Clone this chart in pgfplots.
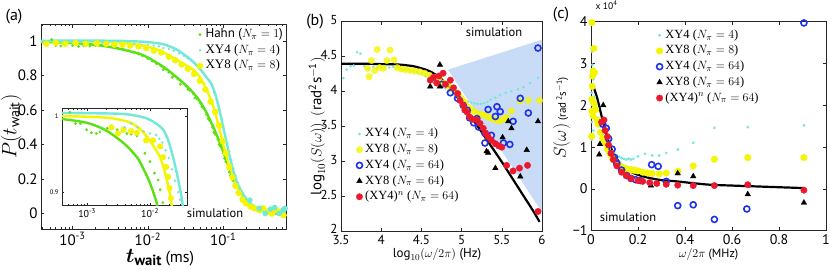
\documentclass[border=0pt]{standalone}
\usepackage{amsmath}
\usepackage{fontspec}
\setmainfont{PT Sans}
\newfontfamily\serifft{Liberation Serif}
\usepackage{pgfplots}
\pgfplotsset{compat=1.18}
\definecolor{cG}{RGB}{90,225,20}
\definecolor{cC}{RGB}{112,232,218}
\definecolor{cY}{RGB}{245,245,0}
\definecolor{cB}{RGB}{30,50,235}
\definecolor{cR}{RGB}{235,25,45}
\definecolor{cS}{RGB}{200,220,248}
\pgfplotsset{
  base/.style={scale only axis, anchor=south west, tick align=inside,
    axis line style={line width=0.8pt, black!85},
    major tick length=3.5pt, minor tick length=2pt,
    tick style={black!85, line width=0.6pt},
    /pgf/number format/assume math mode=true,
    legend cell align=left,
    legend image code/.code={\draw[mark repeat=2,mark phase=2,##1] plot coordinates {(-4pt,0pt)(0pt,0pt)(4pt,0pt)};},
    legend style={draw=none, fill=none, inner sep=0pt, row sep=0.7pt, column sep=1pt,
       nodes={inner sep=1.5pt, text height=9pt, text depth=3pt}},
  },
}
\begin{document}
\begin{tikzpicture}
\useasboundingbox (0,0) rectangle (830pt,269pt);
% ---------------- (a) ----------------
\begin{axis}[base, at={(41pt,40pt)}, width=245pt, height=205pt,
  xmode=log, xmin=3.82e-4, xmax=0.679, ymin=-0.09, ymax=1.1,
  xtick={1e-3,1e-2,1e-1},
  xticklabels={10\textsuperscript{-3},10\textsuperscript{-2},10\textsuperscript{-1}},
  minor xtick={4e-4,5e-4,6e-4,7e-4,8e-4,9e-4,2e-3,3e-3,4e-3,5e-3,6e-3,7e-3,8e-3,9e-3,2e-2,3e-2,4e-2,5e-2,6e-2,7e-2,8e-2,9e-2,0.2,0.3,0.4,0.5,0.6},
  ytick={0,0.2,0.4,0.6,0.8,1}, yticklabels={0,0.2,0.4,0.6,0.8,1},
  ticklabel style={font=\fontsize{15}{15}\selectfont},
  xlabel={$\boldsymbol{t}_{\mathbf{wait}}$\,{\fontsize{16}{16}\selectfont(ms)}},
  xlabel style={at={(axis description cs:0.486,-0.14)}, anchor=center, font=\fontsize{21}{21}\selectfont},
  ylabel={$P(t_{\mathrm{wait}})$},
  ylabel style={at={(axis description cs:-0.122,0.5)}, anchor=center, font=\fontsize{20}{20}\selectfont},
  legend style={at={(axis description cs:0.636,0.986)}, anchor=north west, font=\fontsize{13}{13}\selectfont},
]
\addplot[cG, line width=2.4pt, smooth, forget plot] coordinates {(3.8e-4,0.996)(1e-3,0.99)(2e-3,0.979)(3e-3,0.968)(4e-3,0.958)(6e-3,0.94)(0.008,0.925)(0.01,0.905)(0.015,0.86)(0.02,0.82)(0.03,0.755)(0.04,0.70)(0.05,0.645)(0.06,0.585)(0.074,0.50)(0.09,0.41)(0.11,0.31)(0.13,0.225)(0.16,0.145)(0.2,0.08)(0.25,0.043)(0.3,0.025)(0.4,0.01)(0.68,0.003)};
\addplot[cY, line width=2.4pt, smooth, forget plot] coordinates {(3.8e-4,1.0)(2e-3,0.998)(4e-3,0.993)(0.006,0.985)(0.008,0.977)(0.01,0.968)(0.0126,0.955)(0.0158,0.937)(0.02,0.912)(0.025,0.888)(0.03,0.868)(0.04,0.835)(0.05,0.785)(0.06,0.72)(0.074,0.62)(0.089,0.49)(0.1,0.4)(0.115,0.3)(0.13,0.23)(0.15,0.16)(0.18,0.1)(0.22,0.055)(0.28,0.03)(0.4,0.01)(0.68,0.003)};
\addplot[cC, line width=2.4pt, smooth, forget plot] coordinates {(3.8e-4,1.003)(3e-3,1.003)(6e-3,1.0)(0.01,0.995)(0.0158,0.983)(0.02,0.968)(0.025,0.948)(0.033,0.91)(0.04,0.88)(0.049,0.84)(0.06,0.79)(0.07,0.75)(0.08,0.68)(0.09,0.59)(0.1,0.50)(0.111,0.41)(0.125,0.31)(0.14,0.23)(0.16,0.16)(0.185,0.11)(0.22,0.065)(0.27,0.035)(0.35,0.015)(0.68,0.003)};
\addplot[only marks, mark=*, mark size=1.2pt, cG] coordinates {(4.5e-4,0.98)(5.3e-4,1.01)(6e-4,0.975)(7e-4,0.972)(8e-4,0.978)(1e-3,0.975)(1.2e-3,0.97)(1.4e-3,0.975)(1.7e-3,0.972)(2e-3,0.975)(2.4e-3,0.978)(2.8e-3,0.975)(3.3e-3,0.968)(4e-3,0.96)(4.7e-3,0.955)(5.5e-3,0.945)(6.5e-3,0.935)(7.5e-3,0.925)(8.5e-3,0.915)(1e-2,0.9)(1.15e-2,0.885)(1.3e-2,0.87)(1.5e-2,0.855)(1.7e-2,0.84)(1.9e-2,0.82)(2.2e-2,0.8)(2.5e-2,0.78)(2.8e-2,0.765)(3.2e-2,0.74)(3.6e-2,0.715)(4e-2,0.695)(4.5e-2,0.665)(5e-2,0.64)(5.5e-2,0.61)(6e-2,0.575)(6.6e-2,0.54)(7.2e-2,0.5)(7.8e-2,0.46)(8.5e-2,0.43)(9.2e-2,0.39)(0.1,0.35)(0.108,0.3)(0.116,0.26)(0.125,0.22)(0.135,0.19)(0.145,0.16)(0.16,0.12)(0.175,0.09)(0.19,0.06)(0.21,0.05)(0.23,0.035)(0.25,0.03)(0.28,0.02)(0.31,0.01)(0.35,0.015)(0.4,0.005)(0.45,0.01)(0.5,0.0)(0.6,0.005)(1.6e-2,0.835)(2.1e-2,0.79)(2.7e-2,0.75)(3.4e-2,0.72)(4.2e-2,0.67)(5.2e-2,0.62)(6.3e-2,0.55)(7.5e-2,0.47)(8.8e-2,0.4)(0.104,0.32)(0.12,0.24)(0.14,0.17)(0.2,0.07)};
\addlegendentry{Hahn ($N_\pi = 1$)}
\addplot[only marks, mark=*, mark size=1pt, cC] coordinates {(4.5e-4,1.0)(6e-4,0.995)(8e-4,0.99)(1e-3,0.99)(1.3e-3,0.995)(1.6e-3,0.99)(2e-3,0.99)(2.5e-3,0.99)(3e-3,0.995)(3.7e-3,0.99)(4.5e-3,0.99)(5.5e-3,0.985)(6.5e-3,0.985)(8e-3,0.98)(1e-2,0.98)(1.2e-2,0.975)(1.4e-2,0.97)(1.6e-2,0.96)(1.9e-2,0.955)(2.2e-2,0.945)(2.6e-2,0.93)(3e-2,0.915)(3.4e-2,0.9)(3.8e-2,0.885)(4.3e-2,0.865)(4.8e-2,0.84)(5.3e-2,0.82)(5.8e-2,0.8)(6.4e-2,0.77)(7e-2,0.74)(7.6e-2,0.7)(8.2e-2,0.66)(8.8e-2,0.61)(9.4e-2,0.56)(0.1,0.51)(0.106,0.46)(0.113,0.41)(0.12,0.36)(0.128,0.31)(0.136,0.26)(0.145,0.22)(0.155,0.18)(0.165,0.15)(0.18,0.12)(0.2,0.09)(0.22,0.06)(0.25,0.04)(0.28,0.03)(0.32,0.02)};
\addlegendentry{{\serifft XY4 (}$N_\pi = 4${\serifft )}}
\addplot[only marks, mark=*, mark size=3pt, cY] coordinates {(4.5e-4,0.985)(6e-4,0.99)(8e-4,0.985)(1.1e-3,0.99)(1.5e-3,0.985)(2.1e-3,0.988)(2.8e-3,0.985)(3.6e-3,0.98)(4.6e-3,0.98)(5.8e-3,0.975)(7.5e-3,0.97)(9.5e-3,0.96)(1.2e-2,0.945)(1.5e-2,0.935)(1.9e-2,0.91)(2.3e-2,0.89)(2.8e-2,0.865)(3.4e-2,0.84)(4.1e-2,0.81)(4.9e-2,0.77)(5.8e-2,0.72)(6.8e-2,0.65)(7.8e-2,0.59)(8.8e-2,0.51)(0.098,0.42)(0.108,0.35)(0.12,0.27)(0.132,0.21)(0.145,0.16)(0.16,0.12)(0.18,0.08)(0.2,0.06)(0.23,0.04)(0.26,0.03)(0.3,0.02)(0.34,0.03)(0.39,0.01)(0.44,0.0)(0.5,0.02)(0.56,0.01)(0.63,-0.01)};
\addlegendentry{{\serifft XY8 (}$N_\pi = 8${\serifft )}}
\addplot[only marks, mark=*, mark size=2.6pt, cC, forget plot] coordinates {(0.225,0.077)(0.3,0.03)(0.36,0.0)(0.42,0.025)(0.48,0.035)(0.55,0.0)(0.62,0.02)(0.66,0.03)};
\end{axis}
% ---------------- (a) inset ----------------
\begin{axis}[base, at={(62pt,64pt)}, width=125pt, height=97pt,
  xmode=log, xmin=3.98e-4, xmax=0.0389, ymin=0.883, ymax=1.0105,
  axis background/.style={fill=white},
  xtick={1e-3,1e-2}, xticklabels={10\textsuperscript{-3},10\textsuperscript{-2}},
  minor xtick={5e-4,6e-4,7e-4,8e-4,9e-4,2e-3,3e-3,4e-3,5e-3,6e-3,7e-3,8e-3,9e-3,2e-2,3e-2},
  ytick={0.9,1}, yticklabels={0.9,1},
  xticklabel style={font=\fontsize{10}{10}\selectfont},
  yticklabel style={font=\fontsize{6.5}{6.5}\selectfont},
  major tick length=2.5pt, minor tick length=1.5pt,
]
\addplot[cG, line width=2.4pt, smooth] coordinates {(3.98e-4,0.996)(1e-3,0.991)(2e-3,0.981)(3.98e-3,0.963)(6.31e-3,0.945)(7.94e-3,0.930)(1e-2,0.912)(1.259e-2,0.888)(1.35e-2,0.875)};
\addplot[cY, line width=2.4pt, smooth] coordinates {(3.98e-4,1.0)(1e-3,0.999)(2.51e-3,0.997)(5.01e-3,0.991)(7.94e-3,0.978)(1.259e-2,0.955)(1.585e-2,0.937)(1.995e-2,0.905)(2.3e-2,0.875)};
\addplot[cC, line width=2.4pt, smooth] coordinates {(3.98e-4,1.004)(3.16e-3,1.003)(6.31e-3,1.0)(1e-2,0.995)(1.585e-2,0.983)(1.995e-2,0.966)(2.512e-2,0.935)(3.162e-2,0.895)(3.4e-2,0.875)};
\addplot[only marks, mark=*, mark size=1.2pt, cG] coordinates {(5.3e-4,1.005)(6.5e-4,0.99)(7.8e-4,0.99)(9.8e-4,0.982)(1.17e-3,0.978)(1.4e-3,0.977)(1.6e-3,0.979)(1.8e-3,0.983)(2.1e-3,0.984)(2.5e-3,0.984)(3e-3,0.982)(3.6e-3,0.98)(4.3e-3,0.977)(5e-3,0.976)(6.2e-3,0.974)(8.3e-3,0.951)(1e-2,0.94)(1.18e-2,0.925)(1.35e-2,0.916)(1.45e-2,0.903)(1.6e-2,0.886)};
\addplot[only marks, mark=*, mark size=2.8pt, cY] coordinates {(2.45e-3,0.985)(3.1e-3,0.977)(3.8e-3,0.982)(5e-3,0.98)(6.2e-3,0.978)(8.7e-3,0.968)(1.12e-2,0.968)(1.45e-2,0.96)(1.62e-2,0.946)(1.82e-2,0.933)(1.95e-2,0.92)(2.05e-2,0.905)(2.15e-2,0.892)};
\addplot[only marks, mark=*, mark size=1pt, cC] coordinates {(3.98e-3,0.985)(5.01e-3,0.99)(6.31e-3,0.985)(7.94e-3,0.98)(1e-2,0.977)(1.259e-2,0.975)(1.413e-2,0.97)(1.585e-2,0.965)(1.778e-2,0.955)(1.995e-2,0.945)(2.239e-2,0.93)(2.512e-2,0.915)(2.818e-2,0.9)(3.02e-2,0.89)};
\end{axis}
\node[font=\fontsize{12.5}{12.5}\selectfont] at (215pt,56pt) {simulation};
\node[font=\fontsize{16}{16}\selectfont] at (14pt,252pt) {(a)};
% ---------------- (b) ----------------
\begin{axis}[base, at={(341pt,38pt)}, width=201pt, height=209.5pt,
  xmin=3.5, xmax=6, ymin=2, ymax=5,
  xtick={3.5,4,4.5,5,5.5,6}, xticklabels={3.5,4,4.5,5,5.5,6},
  ytick={2,2.5,3,3.5,4,4.5,5}, yticklabels={\raisebox{3pt}{2},2.5,3,3.5,4,4.5,5},
  ticklabel style={font=\fontsize{13}{13}\selectfont},
  yticklabel style={yshift=1pt},
  xticklabel style={yshift=-1pt},
  xlabel={$\log_{10}(\omega/2\pi)$ (Hz)},
  xlabel style={at={(axis description cs:0.478,-0.11)}, anchor=center, font=\fontsize{13}{13}\selectfont},
  ylabel={$\log_{10}(S(\omega))\;\,(\mathrm{rad^2s^{-1}})$},
  ylabel style={at={(axis description cs:-0.12,0.5)}, anchor=center, font=\fontsize{15}{15}\selectfont},
  legend style={at={(axis description cs:0.075,0.50)}, anchor=north west, font=\serifft\fontsize{12.5}{12.5}\selectfont},
]
\addplot[draw=none, fill=cS, forget plot] coordinates {(4.83,4.31) (6,4.74) (6,2.27)} -- cycle;
\addplot[only marks, mark=*, mark size=1.1pt, cC] coordinates {(3.53,4.19)(3.57,4.31)(3.62,4.36)(3.66,4.37)(3.70,4.56)(3.74,4.54)(3.79,4.36)(3.84,4.33)(3.9,4.35)(3.95,4.34)(4.0,4.35)(4.05,4.36)(4.1,4.34)(4.15,4.35)(4.2,4.34)(4.25,4.32)(4.3,4.31)(4.35,4.3)(4.4,4.29)(4.45,4.27)(4.5,4.25)(4.55,4.22)(4.6,4.19)(4.65,4.16)(4.7,4.12)(4.75,4.08)(4.8,4.04)(4.85,4.0)(4.9,3.96)(4.95,3.93)(5.0,3.9)(5.04,3.87)(5.08,3.85)(5.12,3.84)(5.16,3.83)(5.2,3.82)(5.24,3.82)(5.28,3.83)(5.32,3.85)(5.36,3.88)(5.42,3.91)(5.48,3.95)(5.55,3.98)(5.62,4.0)(5.7,4.03)(5.77,4.06)(5.85,4.12)(5.95,4.19)};
\addlegendentry{XY4 ($N_\pi = 4$)}
\addplot[only marks, mark=*, mark size=3.2pt, cY, opacity=0.8] coordinates {(3.85,4.21)(3.83,4.33)(3.88,4.44)(3.92,4.3)(3.95,4.6)(3.98,4.34)(4.03,4.33)(4.07,4.44)(4.11,4.59)(4.16,4.45)(4.2,4.34)(4.25,4.32)(4.3,4.31)(4.36,4.3)(4.42,4.29)(4.48,4.28)(4.54,4.26)(4.6,4.23)(4.66,4.2)(4.72,4.16)(4.78,4.12)(4.84,4.07)(4.9,4.02)(4.96,3.96)(5.0,3.9)(5.04,3.84)(5.08,3.78)(5.12,3.74)(5.16,3.71)(5.2,3.68)(5.24,3.67)(5.28,3.66)(5.32,3.64)(5.36,3.62)(5.4,3.6)(5.44,3.58)(5.48,3.58)(5.52,3.6)(5.56,3.63)(5.62,3.72)(5.73,3.86)(5.83,3.87)(5.97,3.87)};
\addlegendentry{XY8 ($N_\pi = 8$)}
\addplot[only marks, mark=o, mark size=3pt, line width=1.6pt, cB] coordinates {(4.75,4.1)(4.86,3.98)(4.95,3.9)(5.02,3.8)(5.07,3.73)(5.1,3.62)(5.15,3.55)(5.19,3.61)(5.21,3.49)(5.29,3.4)(5.29,3.26)(5.33,3.74)(5.37,3.37)(5.42,3.64)(5.44,3.78)(5.48,3.71)(5.52,3.26)(5.6,3.24)(5.64,3.57)(5.73,3.9)(5.83,3.69)(5.95,4.62)};
\addlegendentry{XY4 ($N_\pi = 64$)}
\addplot[only marks, mark=triangle*, mark size=3.2pt, black] coordinates {(4.61,4.07)(4.73,4.38)(4.73,4.07)(5.31,3.14)(5.33,3.12)(5.42,2.90)(5.51,3.34)(5.58,3.57)(5.62,3.47)(5.73,2.78)(5.81,3.16)(5.95,3.57)};
\addlegendentry{XY8 ($N_\pi = 64$)}
\addplot[only marks, mark=*, mark size=3.2pt, cR] coordinates {(4.61,4.16)(4.65,4.2)(4.69,4.12)(4.72,4.22)(4.77,4.26)(4.8,4.1)(4.86,4.16)(4.9,4.05)(4.95,3.97)(4.98,3.87)(5.02,3.8)(5.04,3.73)(5.07,3.7)(5.1,3.63)(5.14,3.6)(5.19,3.59)(5.23,3.54)(5.27,3.47)(5.3,3.4)(5.33,3.35)(5.37,3.3)(5.42,3.25)(5.46,3.22)(5.5,3.2)(5.56,2.94)(5.64,2.86)(5.72,2.9)(5.82,2.94)(5.95,2.28)};
\addlegendentry{(XY4)$^n$ ($N_\pi = 64$)}
\addplot[black, line width=2.2pt, smooth, forget plot] coordinates {(3.5,4.395)(3.8,4.395)(4.0,4.39)(4.2,4.385)(4.3,4.375)(4.4,4.36)(4.5,4.33)(4.6,4.29)(4.7,4.22)(4.8,4.12)(4.9,3.99)(5.0,3.83)(5.1,3.66)(5.2,3.5)(5.3,3.33)(5.4,3.16)(5.5,2.99)(5.6,2.81)(5.7,2.63)(5.8,2.45)(5.9,2.27)(5.97,2.13)};
\end{axis}
\node[font=\fontsize{12.5}{12.5}\selectfont] at (494pt,237pt) {simulation};
\node[font=\fontsize{16}{16}\selectfont] at (315pt,247pt) {(b)};
% ---------------- (c) ----------------
\begin{axis}[base, at={(591pt,38.3pt)}, width=235pt, height=209pt,
  xmin=0, xmax=1, ymin=-1, ymax=4,
  xtick={0,0.2,0.4,0.6,0.8,1}, xticklabels={0,0.2,0.4,0.6,0.8,1},
  ytick={-1,0,1,2,3,4}, yticklabels={−1,0,1,2,3,4},
  ticklabel style={font=\fontsize{14}{14}\selectfont},
  xlabel={$\omega/2\pi$ (MHz)},
  xlabel style={at={(axis description cs:0.5,-0.115)}, anchor=center, font=\fontsize{12}{12}\selectfont},
  ylabel={$S(\omega)$\,{\fontsize{11}{11}\selectfont(rad\,\textsuperscript{2}s\textsuperscript{$-$1})}},
  ylabel style={at={(axis description cs:-0.125,0.54)}, anchor=center, font=\fontsize{18}{18}\selectfont},
  legend style={at={(axis description cs:0.277,0.972)}, anchor=north west, font=\serifft\fontsize{12.5}{12.5}\selectfont},
]
\addplot[only marks, mark=*, mark size=1.2pt, cC] coordinates {(0.004,3.28)(0.006,2.97)(0.005,2.75)(0.01,2.62)(0.008,2.5)(0.003,2.3)(0.006,2.0)(0.004,1.6)(0.003,1.18)(0.01,1.4)(0.015,2.2)(0.02,2.0)(0.03,1.7)(0.04,1.5)(0.05,1.3)(0.06,1.15)(0.07,1.05)(0.08,0.97)(0.09,0.9)(0.1,0.85)(0.11,0.8)(0.12,0.77)(0.13,0.74)(0.14,0.72)(0.15,0.7)(0.16,0.72)(0.17,0.7)(0.18,0.72)(0.2,0.78)(0.23,0.84)(0.26,0.8)(0.29,0.8)(0.32,0.86)(0.37,0.94)(0.435,1.1)(0.525,1.46)(0.667,1.48)(0.906,1.52)};
\addlegendentry{XY4 ($N_\pi = 4$)}
\addplot[only marks, mark=*, mark size=3.3pt, cY] coordinates {(0.004,3.98)(0.012,3.36)(0.01,2.82)(0.015,2.78)(0.006,2.7)(0.005,2.45)(0.004,2.14)(0.004,1.86)(0.008,1.75)(0.003,1.26)(0.012,2.05)(0.02,1.9)(0.025,1.65)(0.03,1.55)(0.04,1.35)(0.05,1.2)(0.06,1.1)(0.07,0.95)(0.08,0.85)(0.09,0.75)(0.1,0.68)(0.11,0.6)(0.12,0.56)(0.13,0.52)(0.14,0.5)(0.15,0.48)(0.16,0.47)(0.17,0.46)(0.18,0.45)(0.19,0.44)(0.2,0.43)(0.22,0.4)(0.24,0.38)(0.26,0.37)(0.29,0.36)(0.32,0.38)(0.37,0.42)(0.435,0.55)(0.525,0.71)(0.667,0.75)(0.906,0.75)};
\addlegendentry{XY8 ($N_\pi = 8$)}
\addplot[only marks, mark=o, mark size=3pt, line width=1.6pt, cB] coordinates {(0.05,1.55)(0.065,1.45)(0.075,1.2)(0.09,0.95)(0.1,0.75)(0.11,0.6)(0.13,0.45)(0.152,0.32)(0.17,0.25)(0.19,0.22)(0.21,0.2)(0.258,0.58)(0.286,0.54)(0.32,0.18)(0.369,-0.4)(0.435,-0.38)(0.525,-0.73)(0.663,-0.48)(0.906,3.97)};
\addlegendentry{XY4 ($N_\pi = 64$)}
\addplot[only marks, mark=triangle*, mark size=3.2pt, black] coordinates {(0.035,0.82)(0.038,1.07)(0.052,2.0)(0.255,0.08)(0.369,0.37)(0.435,0.30)(0.667,-0.13)(0.906,-0.33)};
\addlegendentry{XY8 ($N_\pi = 64$)}
\addplot[only marks, mark=*, mark size=3.2pt, cR] coordinates {(0.045,1.6)(0.055,1.65)(0.06,1.4)(0.07,1.25)(0.075,1.05)(0.085,0.85)(0.095,0.7)(0.11,0.55)(0.13,0.4)(0.15,0.32)(0.17,0.25)(0.2,0.2)(0.22,0.18)(0.25,0.15)(0.28,0.13)(0.32,0.11)(0.369,0.09)(0.435,0.08)(0.525,0.08)(0.667,0.1)(0.906,-0.03)};
\addlegendentry{(XY4)$^n$ ($N_\pi = 64$)}
\addplot[black, line width=2.2pt, smooth, forget plot] coordinates {(0.003,2.5)(0.01,2.45)(0.024,2.22)(0.035,1.98)(0.045,1.74)(0.056,1.5)(0.067,1.26)(0.078,1.08)(0.088,0.94)(0.1,0.8)(0.123,0.62)(0.15,0.48)(0.18,0.38)(0.215,0.31)(0.25,0.26)(0.3,0.21)(0.365,0.18)(0.43,0.14)(0.506,0.10)(0.6,0.08)(0.7,0.06)(0.8,0.04)(0.906,0.02)};
\end{axis}
\node[font=\fontsize{12.5}{12.5}\selectfont] at (628pt,52pt) {simulation};
\node[font=\fontsize{9.5}{9.5}\selectfont, anchor=west] at (592pt,264pt) {x 10\textsuperscript{4}};
\node[font=\fontsize{16}{16}\selectfont] at (561pt,254pt) {(c)};
\end{tikzpicture}
\end{document}
